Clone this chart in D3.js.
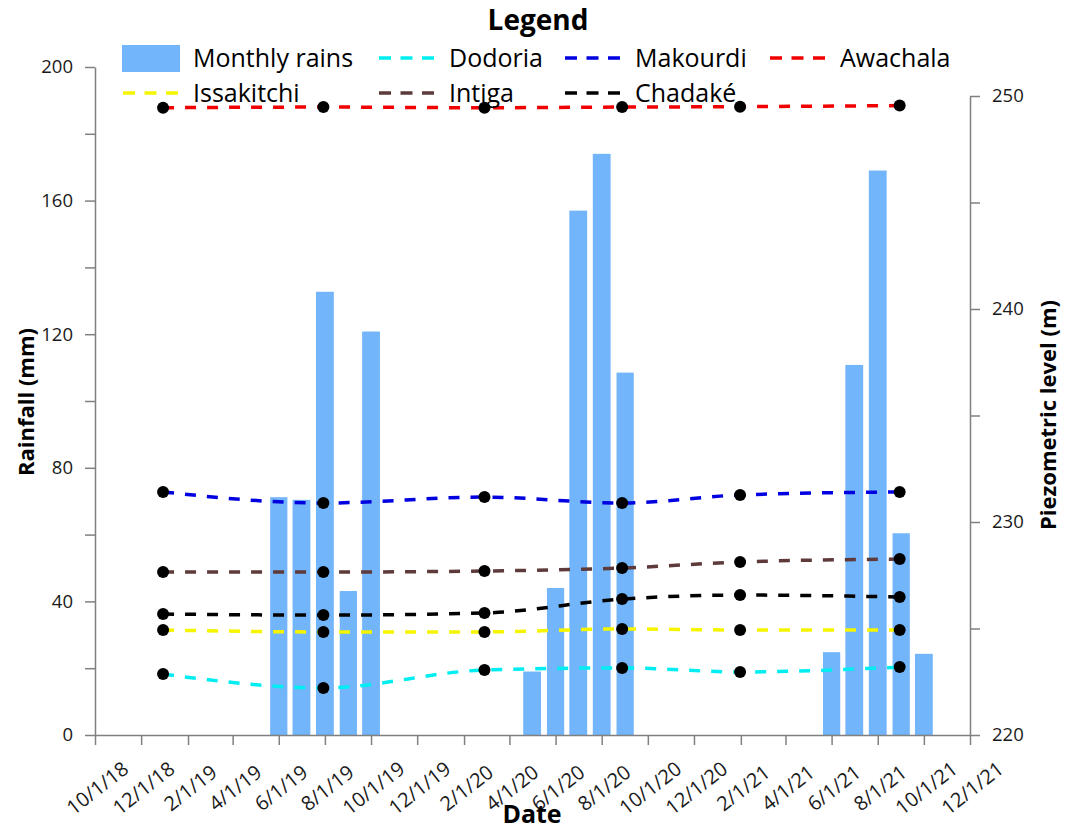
<!DOCTYPE html>
<html>
<head>
<meta charset="utf-8">
<script src="https://cdn.jsdelivr.net/npm/d3@7"></script>
<style>
  body{margin:0;background:#fff;}
  text{font-family:"Open Sans",Arial,sans-serif;}
  .axis .tick text{font-family:"Open Sans",Arial,sans-serif;font-size:18.5px;fill:#1a1a1a;}
  .axis.dates .tick text{font-size:20px;}
  .axis path,.axis line{stroke:#808080;stroke-width:1.5;}
</style>
</head>
<body>
<svg id="chart" width="1074" height="833"></svg>
<script>
// monthly rainfall (mm), one bar per month centred on the 1st
var rainMonths = ["2019-06-01","2019-07-01","2019-08-01","2019-09-01","2019-10-01",
  "2020-05-01","2020-06-01","2020-07-01","2020-08-01","2020-09-01",
  "2021-06-01","2021-07-01","2021-08-01","2021-09-01","2021-10-01"];
var rainValues = [71.2, 70.4, 132.7, 43.1, 120.8,
  19, 44, 157, 174, 108.5,
  24.8, 110.8, 169, 60.4, 24.3];

// piezometric survey dates and levels (m)
var surveyDates = ["2018-12-30","2019-07-30","2020-02-28","2020-08-28","2021-01-31","2021-08-30"];
var wellNames = ["Dodoria","Makourdi","Awachala","Issakitchi","Intiga","Chadaké"];
var dodoria    = [222.86, 222.21, 223.05, 223.15, 222.96, 223.19];
var makourdi   = [231.41, 230.89, 231.17, 230.89, 231.27, 231.41];
var awachala   = [249.45, 249.48, 249.45, 249.48, 249.50, 249.55];
var issakitchi = [224.93, 224.84, 224.84, 224.98, 224.93, 224.93];
var intiga     = [227.65, 227.65, 227.70, 227.84, 228.12, 228.26];
var chadake    = [225.68, 225.63, 225.73, 226.38, 226.57, 226.48];
var wellLevels = [dodoria, makourdi, awachala, issakitchi, intiga, chadake];
var wellColors = ["#00eef2","#0000e0","#f00000","#f5f500","#5e3a3a","#000000"];

// axis ticks
var rainTicks = [0,20,40,60,80,100,120,140,160,180,200];
var levelTicks = [220,225,230,235,240,245,250];

var parse = d3.timeParse("%Y-%m-%d");
var svg = d3.select("#chart");

var x = d3.scaleTime()
    .domain([parse("2018-10-01"), parse("2021-12-01")])
    .range([95, 970]);
var yRain = d3.scaleLinear().domain([0, 200]).range([735, 67]);
var yLevel = d3.scaleLinear().domain([220, 250]).range([735, 96]);

/*
Bars
*/
var bars = rainMonths.map((m, i) => ({date: parse(m), value: rainValues[i]}));
function barWidth(d){
  return (x(d3.timeMonth.offset(d.date, 1)) - x(d.date)) * 0.76;
}
svg.append("g").selectAll("rect")
    .data(bars)
    .enter()
    .append("rect")
    .attr("x", (d) => x(d.date) - barWidth(d) / 2)
    .attr("width", barWidth)
    .attr("y", (d) => yRain(d.value))
    .attr("height", (d) => yRain(0) - yRain(d.value))
    .attr("fill", "#72b5fa");

/*
Axes
*/
var xTicks = d3.timeMonth.range(parse("2018-10-01"), parse("2021-12-02"), 2);
var xAxis = svg.append("g")
    .attr("class", "axis dates")
    .attr("transform", "translate(0,735)")
    .call(d3.axisBottom(x)
      .tickValues(xTicks)
      .tickSize(10)
      .tickSizeOuter(0)
      .tickFormat(d3.timeFormat("%-m/%-d/%y")));
xAxis.selectAll(".tick text")
    .attr("y", 0)
    .attr("dy", "0.35em")
    .attr("text-anchor", "middle")
    .attr("transform", "translate(2,53) rotate(-38)");

svg.append("g")
    .attr("class", "axis")
    .attr("transform", "translate(95,0)")
    .call(d3.axisLeft(yRain)
      .tickValues(rainTicks)
      .tickSize(10)
      .tickSizeOuter(0)
      .tickPadding(12)
      .tickFormat((d) => d % 40 === 0 ? d : ""));

svg.append("g")
    .attr("class", "axis")
    .attr("transform", "translate(970,0)")
    .call(d3.axisRight(yLevel)
      .tickValues(levelTicks)
      .tickSize(10)
      .tickSizeOuter(0)
      .tickPadding(12)
      .tickFormat((d) => d % 10 === 0 ? d : ""));

/*
Piezometric lines and survey points
*/
var dates = surveyDates.map(parse);
var line = d3.line()
    .x((d, i) => x(dates[i]))
    .y((d) => yLevel(d))
    .curve(d3.curveMonotoneX);

wellLevels.forEach(function(levels, k){
  svg.append("path")
      .datum(levels)
      .attr("fill", "none")
      .attr("stroke", wellColors[k])
      .attr("stroke-width", 3.5)
      .attr("stroke-dasharray", "11,11")
      .attr("d", line);
});
wellLevels.forEach(function(levels){
  svg.append("g").selectAll("circle")
      .data(levels)
      .enter()
      .append("circle")
      .attr("cx", (d, i) => x(dates[i]))
      .attr("cy", (d) => yLevel(d))
      .attr("r", 6)
      .attr("fill", "#000");
});

/*
Titles
*/
svg.append("text")
    .attr("x", 26).attr("y", 402)
    .attr("transform", "rotate(-90,26,402)")
    .attr("text-anchor", "middle")
    .attr("dy", "0.35em")
    .style("font-weight", "bold").style("font-size", "22px")
    .text("Rainfall (mm)");
svg.append("text")
    .attr("x", 1048).attr("y", 415)
    .attr("transform", "rotate(-90,1048,415)")
    .attr("text-anchor", "middle")
    .attr("dy", "0.35em")
    .style("font-weight", "bold").style("font-size", "22px")
    .text("Piezometric level (m)");
svg.append("text")
    .attr("x", 532).attr("y", 823)
    .attr("text-anchor", "middle")
    .style("font-weight", "bold").style("font-size", "25px")
    .text("Date");

/*
Legend
*/
svg.append("text")
    .attr("x", 538).attr("y", 30)
    .attr("text-anchor", "middle")
    .style("font-weight", "bold").style("font-size", "28px")
    .text("Legend");

var legendItems = ["Monthly rains"].concat(wellNames);
var colText = [193, 449, 635, 840];
var rowY = [58, 93];
legendItems.forEach(function(name, i){
  var tx = colText[i % 4], ty = rowY[Math.floor(i / 4)];
  if(i === 0){
    svg.append("rect")
        .attr("x", 122).attr("y", ty - 13)
        .attr("width", 58).attr("height", 27)
        .attr("fill", "#72b5fa");
  } else {
    svg.append("line")
        .attr("x1", tx - 70).attr("x2", tx - 15)
        .attr("y1", ty).attr("y2", ty)
        .attr("stroke", wellColors[i - 1])
        .attr("stroke-width", 3.5)
        .attr("stroke-dasharray", "12,9.5");
  }
  svg.append("text")
      .attr("x", tx).attr("y", ty)
      .attr("dy", "0.35em")
      .style("font-size", "25px")
      .text(name);
});
</script>
</body>
</html>
